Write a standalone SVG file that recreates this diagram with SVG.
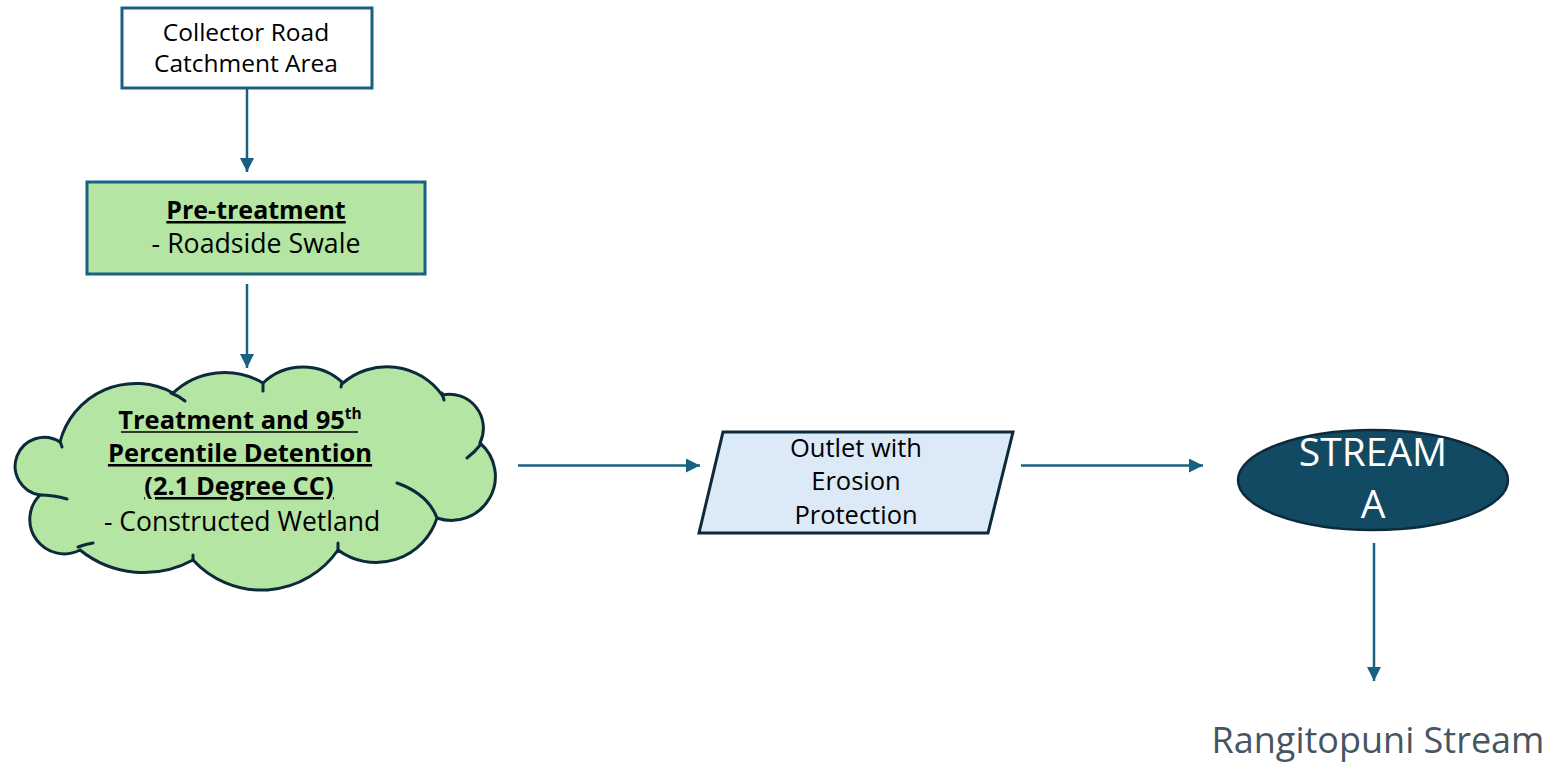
<svg xmlns="http://www.w3.org/2000/svg" width="1556" height="766" viewBox="0 0 1556 766">
  <defs>
    <marker id="arrow" viewBox="0 0 10 10" refX="10" refY="5" markerWidth="5.8" markerHeight="5.6" markerUnits="strokeWidth" orient="auto">
      <path d="M0,0 L10,5 L0,10 Z" fill="#1a6083"/>
    </marker>
    <style>
      .txt { font-family: "Open Sans", "Liberation Sans", sans-serif; fill: #000; text-anchor: middle; }
      .b { font-weight: bold; }
      .u { text-decoration: underline; }
      .conn { stroke: #1a6083; stroke-width: 2.5; fill: none; marker-end: url(#arrow); }
      .dark { stroke: #0c2a3b; stroke-width: 3; }
      .ul { stroke: #000; stroke-width: 1.6; }
    </style>
  </defs>
  <rect width="1556" height="766" fill="#ffffff"/>

  <!-- connectors -->
  <g id="connectors">
    <line class="conn" x1="247" y1="88" x2="247" y2="172"/>
    <line class="conn" x1="247" y1="284" x2="247" y2="368"/>
    <line class="conn" x1="518" y1="465.5" x2="700" y2="465.5"/>
    <line class="conn" x1="1021" y1="465.5" x2="1203" y2="465.5"/>
    <line class="conn" x1="1374" y1="543" x2="1374" y2="681"/>
  </g>

  <!-- source catchment -->
  <g id="collector-road">
    <rect x="122" y="8" width="250" height="80" fill="#ffffff" stroke="#1a6083" stroke-width="3"/>
    <text class="txt" x="246" y="41" font-size="24.5">Collector Road</text>
    <text class="txt" x="246" y="72" font-size="24.5">Catchment Area</text>
  </g>

  <!-- pre-treatment swale -->
  <g id="pre-treatment">
    <rect x="87" y="182" width="338" height="92" fill="#b4e5a2" stroke="#1a6083" stroke-width="3"/>
    <text class="txt b u" x="256" y="219" font-size="25">Pre-treatment</text>
    <text class="txt" x="256" y="253" font-size="26.7">- Roadside Swale</text>
  </g>

  <!-- wetland (cloud) -->
  <g id="wetland">
    <path class="dark" fill="#b4e5a2" d="M60,442 A78,78 0 0 1 173,393 A75,75 0 0 1 263,383 A58,58 0 0 1 343,383 A67.5,67.5 0 0 1 442,395 A34,34 0 0 1 480,443 A44,44 0 0 1 437,518 A64,64 0 0 1 338,550 A93,93 0 0 1 193,560 A102,102 0 0 1 80,550 A34.4,34.4 0 0 1 40,495 A29,29 0 1 1 60,442 Z"/>
    <g class="dark" fill="none" stroke-linecap="round">
      <path d="M60,441 Q61,444 62,447"/>
      <path d="M39,495 Q54,495 67,499"/>
      <path d="M78,547 Q86,544 93,543"/>
      <path d="M171,393 Q179,396 185,401"/>
      <path d="M263,383 L263,391"/>
      <path d="M342,382 L341,387"/>
      <path d="M442,393 L444,400"/>
      <path d="M481,444 Q475,452 467,458"/>
      <path d="M397,483 Q428,494 437,518"/>
      <path d="M338,550 L338,543"/>
      <path d="M193,560 L193,555"/>
    </g>
    <text class="txt b" x="240" y="429" font-size="25.5">Treatment and 95<tspan font-size="15.5" dy="-10">th</tspan></text>
    <line class="ul" x1="121" y1="432" x2="358" y2="432"/>
    <text class="txt b u" x="240" y="462" font-size="25.5">Percentile Detention</text>
    <text class="txt b u" x="239" y="495" font-size="25.5">(2.1 Degree CC)</text>
    <text class="txt" x="242" y="531" font-size="26.5">- Constructed Wetland</text>
  </g>

  <!-- outlet -->
  <g id="outlet">
    <polygon class="dark" fill="#dce9f6" points="723,432 1013,432 988,533 699,533"/>
    <text class="txt" x="856" y="457" font-size="25.5">Outlet with</text>
    <text class="txt" x="856" y="490" font-size="25.5">Erosion</text>
    <text class="txt" x="856" y="524" font-size="25.5">Protection</text>
  </g>

  <!-- receiving stream -->
  <g id="stream-a">
    <ellipse cx="1373" cy="480" rx="135" ry="50" fill="#124a63" stroke="#0c2a3b" stroke-width="2.5"/>
    <text class="txt" x="1373" y="466" font-size="39" style="fill:#ffffff">STREAM</text>
    <text class="txt" x="1373" y="518" font-size="39" style="fill:#ffffff">A</text>
  </g>

  <g id="rangitopuni">
    <text class="txt" x="1378" y="753" font-size="36" style="fill:#465563">Rangitopuni Stream</text>
  </g>
</svg>
